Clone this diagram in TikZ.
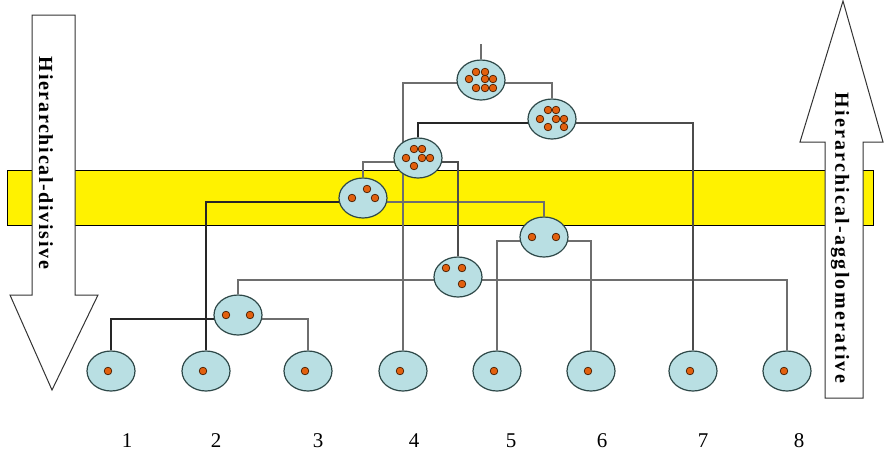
\documentclass[tikz,border=0pt]{standalone}
\usepackage{fontspec}
\setmainfont{Liberation Serif}
\usetikzlibrary{shapes.geometric}
\pgfdeclarelayer{band}
\pgfdeclarelayer{links}
\pgfsetlayers{band,links,main}
\definecolor{cellfill}{HTML}{B9DFE3}
\definecolor{celledge}{HTML}{2E4848}
\definecolor{dotfill}{HTML}{E2600E}
\definecolor{dotedge}{HTML}{4A1E00}
\definecolor{linkgray}{HTML}{6E6E6E}
\tikzset{
  cell/.style={ellipse, draw=celledge, fill=cellfill, line width=1.2pt,
    minimum width=48pt, minimum height=40pt, inner sep=0pt},
  dotstyle/.style={fill=dotfill, draw=dotedge, line width=0.7pt},
  link/.style={draw=linkgray, line width=2.2pt},
  darklink/.style={draw=black!85, line width=2pt},
  thinlink/.style={draw=black!70, line width=1.4pt},
  numlabel/.style={font=\fontsize{21}{21}\selectfont, inner sep=0pt},
  bigarrow/.style={fill=white, draw=black!80, line width=1pt},
  arrowtext/.style={rotate=-90, inner sep=0pt}
}
\newcommand\celldots[2]{\foreach \dx/\dy in {#2}
  \filldraw[dotstyle] ([shift={(\dx,\dy)}]#1.center) circle (3.8);}
\begin{document}
\begin{tikzpicture}[x=1pt,y=-1pt]
\useasboundingbox (0,0) rectangle (884,472);

% band
\begin{pgfonlayer}{band}
\filldraw[fill=yellow, draw=black, line width=0.8pt] (7,170) rectangle (873,225);
\end{pgfonlayer}

% leaves
\foreach \n/\x in {1/111,2/206,3/308,4/403,5/497,6/591,7/693,8/787}
  \node[cell] (l\n) at (\x,371) {};
\foreach \n in {1,...,8} {\celldots{l\n}{-3/0}}

% internal clusters
\node[cell] (A) at (238,315) {};
\node[cell] (B) at (458,277) {};
\node[cell] (D) at (363,198) {};
\node[cell] (E) at (544,237) {};
\node[cell] (C) at (418,158) {};
\node[cell] (G) at (552,119) {};
\node[cell] (F) at (481,80) {};
\celldots{A}{-12/0,12/0}
\celldots{E}{-12/0,12/0}
\celldots{D}{-11/0,4/-9,12/0}
\celldots{B}{-12/-9,4/-9,4/7}
\celldots{C}{-4/-9,4/-9,-12/0,4/0,12/0,-4/8}
\celldots{G}{-4/-9,4/-9,-12/0,4/0,12/0,-4/8,12/8}
\celldots{F}{-5/-8,4/-8,-12/-1,4/-1,12/-1,-5/8,4/8,12/8}

% connectors
\coordinate (root) at (481,44);
\begin{pgfonlayer}{links}
\draw[link] ([yshift=-4pt]A.center) -| (l3.north);
\draw[darklink] ([yshift=-4pt]A.center) -| (l1.north);
\draw[link] (A.north) |- ([yshift=-3pt]B.center) -| (l8.north);
\draw[link] ([yshift=-4pt]D.center) -| (E.north);
\draw[darklink] ([yshift=-4pt]D.center) -| (l2.north);
\draw[link] (l5.north) |- ([yshift=-4pt]E.center) -| (l6.north);
\draw[link] (D.north) |- ([yshift=-4pt]C.center);
\draw[thinlink] ([yshift=-4pt]C.center) -| (B.north);
\draw[darklink] (C.north) |- ([yshift=-4pt]G.center);
\draw[thinlink] ([yshift=-4pt]G.center) -| (l7.north);
\draw[link] (l4.north) |- ([yshift=-3pt]F.center);
\draw[link] ([yshift=-3pt]F.center) -| (G.north);
\draw[link] (root) -- (F.north);
\end{pgfonlayer}

% big arrows
\draw[bigarrow] (32,15) -- (75,15) -- (75,295) -- (98,295) -- (52,390)
  -- (10,295) -- (32,295) -- cycle;
\draw[bigarrow] (843,1) -- (883,142) -- (863,142) -- (863,398) -- (825,398)
  -- (825,142) -- (800,142) -- cycle;
\node[arrowtext, font=\fontsize{20}{20}\bfseries\addfontfeature{LetterSpace=8.5}]
  (divtext) at (46,163) {Hierarchical-divisive};
\node[arrowtext, font=\fontsize{20}{20}\bfseries\addfontfeature{LetterSpace=11}]
  (aggtext) at (840,238) {Hierarchical-agglomerative};

% labels
\foreach \n/\x in {1/127,2/216,3/318,4/414,5/511,6/602,7/703,8/799}
  \node[numlabel] (t\n) at (\x,441) {\n};
\end{tikzpicture}
\end{document}
